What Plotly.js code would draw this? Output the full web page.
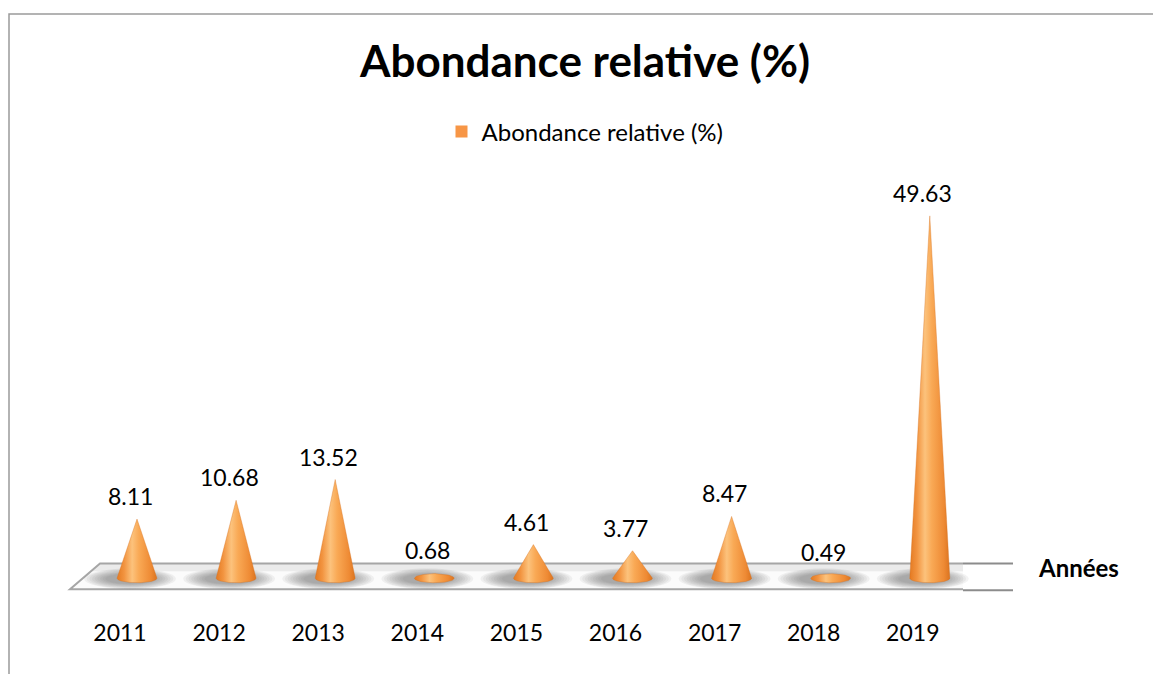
<!DOCTYPE html>
<html>
<head>
<meta charset="utf-8">
<script src="https://cdn.plot.ly/plotly-3.0.1.min.js"></script>
<style>
  html, body { margin: 0; padding: 0; background: #fff; }
  #chart { width: 1153px; height: 674px; }
</style>
</head>
<body>
<div id="chart"></div>
<script>
// Relative abundance per year
const years = ['2011', '2012', '2013', '2014', '2015', '2016', '2017', '2018', '2019'];
const abundance = [8.11, 10.68, 13.52, 0.68, 4.61, 3.77, 8.47, 0.49, 49.63];
const seriesName = 'Abondance relative (%)';
const chartTitle = 'Abondance relative (%)';
const axisName = 'Années';

// ---- page geometry (pixels) ----
const W = 1153, H = 674;
const FONT = 'Lato, "Open Sans", sans-serif';
const plotLeft = 60, plotRight = 1020, plotTop = 150, plotBottom = 605;
const xOriginPx = 137, xStepPx = 99.1;      // centre of first cone, spacing
const yZeroPx = 578, yScalePx = 7.375;       // floor level, px per unit

const xRange = [(plotLeft - xOriginPx) / xStepPx, (plotRight - xOriginPx) / xStepPx];
const yRange = [(yZeroPx - plotBottom) / yScalePx, (yZeroPx - plotTop) / yScalePx];

// pixel -> data helpers used for the floor decoration
const dx = px => (px - xOriginPx) / xStepPx;
const dy = py => (yZeroPx - py) / yScalePx;

const coneHalfW = 20 / xStepPx;     // base radius in x units
const ellipseH = 4.5 / yScalePx;    // base ellipse half height in y units
const labelShift = -17 / xStepPx;   // category labels sit left of the cones (3-D perspective)

// Cone silhouette: upper outline = max(cone edge, back of base ellipse), lower = front of ellipse
function coneOutline(xc, v) {
  const n = 40, xs = [], ys = [];
  for (let k = 0; k <= n; k++) {
    const u = -1 + 2 * k / n;
    const edge = v * (1 - Math.abs(u));
    const back = ellipseH * Math.sqrt(Math.max(0, 1 - u * u));
    xs.push(xc + u * coneHalfW);
    ys.push(Math.max(edge, back));
  }
  for (let k = n - 1; k >= 1; k--) {
    const u = -1 + 2 * k / n;
    xs.push(xc + u * coneHalfW);
    ys.push(-ellipseH * Math.sqrt(1 - u * u));
  }
  xs.push(xs[0]); ys.push(ys[0]);
  return { xs, ys };
}

const coneScale = [
  [0, '#e47a22'], [0.18, '#f29440'], [0.38, '#fcc27c'],
  [0.55, '#f9a955'], [0.85, '#ee8a34'], [1, '#db7420']
];

const traces = years.map((yr, i) => {
  const o = coneOutline(i, abundance[i]);
  return {
    type: 'scatter', mode: 'lines', x: o.xs, y: o.ys,
    fill: 'toself',
    fillgradient: { type: 'horizontal', colorscale: coneScale },
    line: { width: 0.6, color: 'rgba(214,112,30,0.6)' },
    hoverinfo: 'skip', showlegend: false
  };
});

// legend entry for the series
traces.push({
  type: 'bar', x: [null], y: [null], name: seriesName,
  marker: { color: '#f79646' }, showlegend: true, hoverinfo: 'skip'
});

// ---- decorations: floor and soft shadows ----
const shapes = [];
shapes.push({
  type: 'path', xref: 'x', yref: 'y', layer: 'below',
  path: `M ${dx(70)} ${dy(589)} L ${dx(100)} ${dy(563)} L ${dx(963)} ${dy(563)} L ${dx(963)} ${dy(589)} Z`,
  fillcolor: '#fbfbfb', line: { width: 0 }
});
shapes.push({
  type: 'path', xref: 'x', yref: 'y', layer: 'below',
  path: `M ${dx(100)} ${dy(563)} L ${dx(963)} ${dy(563)} L ${dx(963)} ${dy(571)} L ${dx(92)} ${dy(571)} Z`,
  fillcolor: 'rgba(220,220,220,0.5)', line: { width: 0 }
});
// floor outline (open on the right side)
shapes.push({
  type: 'path', xref: 'x', yref: 'y', layer: 'below',
  path: `M ${dx(963)} ${dy(589)} L ${dx(70)} ${dy(589)} L ${dx(100)} ${dy(563)} L ${dx(963)} ${dy(563)}`,
  line: { color: '#a6a6a6', width: 2 }
});
[563, 590].forEach(py => shapes.push({
  type: 'line', xref: 'x', yref: 'y', layer: 'below',
  x0: dx(963), x1: dx(1013), y0: dy(py), y1: dy(py),
  line: { color: '#8c8c8c', width: 2 }
}));

// soft shadow under each cone, built from stacked translucent ellipses
const shadowSteps = 9;
years.forEach((yr, i) => {
  const cxPx = xOriginPx + i * xStepPx - 7, cyPx = yZeroPx + 0.5;
  for (let s = 0; s < shadowSteps; s++) {
    const f = 1 - s / shadowSteps;
    const rx = 22 + 24 * f, ry = 4.5 + 6 * f;
    shapes.push({
      type: 'circle', xref: 'x', yref: 'y', layer: 'below',
      x0: dx(cxPx - rx), x1: dx(cxPx + rx),
      y0: dy(cyPx + ry), y1: dy(cyPx - ry),
      fillcolor: 'rgba(100,100,100,0.075)', line: { width: 0 }
    });
  }
});

// outer chart frame
shapes.push({
  type: 'rect', xref: 'paper', yref: 'paper', layer: 'below',
  x0: (9 - plotLeft) / (plotRight - plotLeft), x1: (1160 - plotLeft) / (plotRight - plotLeft),
  y0: (plotBottom - 680) / (plotBottom - plotTop), y1: (plotBottom - 8) / (plotBottom - plotTop),
  line: { color: '#9a9a9a', width: 1.5 }, fillcolor: 'rgba(0,0,0,0)'
});

// value labels above each apex
const annotations = years.map((yr, i) => ({
  x: i, y: abundance[i], xref: 'x', yref: 'y',
  text: abundance[i].toFixed(2), showarrow: false,
  xshift: -7, yshift: 23, yanchor: 'middle',
  font: { family: FONT, size: 23, color: '#000' }
}));
annotations.push({
  xref: 'paper', yref: 'paper',
  x: (1078 - plotLeft) / (plotRight - plotLeft), y: (plotBottom - 567) / (plotBottom - plotTop),
  text: '<b>' + axisName + '</b>', showarrow: false,
  xanchor: 'center', yanchor: 'middle',
  font: { family: FONT, size: 24, color: '#000' }
});

const layout = {
  width: W, height: H,
  margin: { l: plotLeft, r: W - plotRight, t: plotTop, b: H - plotBottom, pad: 0 },
  paper_bgcolor: '#ffffff', plot_bgcolor: 'rgba(0,0,0,0)',
  title: {
    text: '<b>' + chartTitle + '</b>',
    x: 585 / W, y: 1 - 62 / H, xanchor: 'center', yanchor: 'middle',
    font: { family: FONT, size: 44, color: '#000' }
  },
  showlegend: true,
  legend: {
    orientation: 'h', xref: 'container', yref: 'container',
    x: 585 / W, y: 1 - 132 / H, xanchor: 'center', yanchor: 'middle',
    font: { family: FONT, size: 24, color: '#000' }, itemwidth: 30
  },
  xaxis: {
    range: xRange, fixedrange: true, showgrid: false, zeroline: false,
    showline: false, ticks: '',
    tickmode: 'array', tickvals: years.map((y, i) => i + labelShift), ticktext: years,
    ticklabelstandoff: 12,
    tickfont: { family: FONT, size: 23, color: '#000' }
  },
  yaxis: {
    range: yRange, fixedrange: true, showgrid: false, zeroline: false,
    showline: false, showticklabels: false, ticks: ''
  },
  shapes: shapes,
  annotations: annotations
};

Plotly.newPlot('chart', traces, layout, { staticPlot: true, displayModeBar: false });
</script>
</body>
</html>
